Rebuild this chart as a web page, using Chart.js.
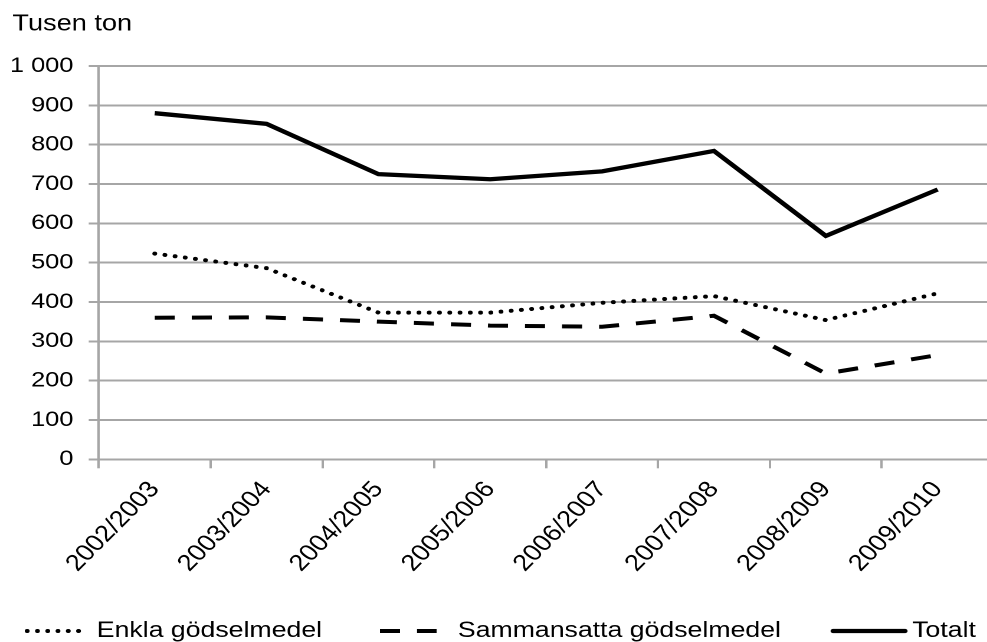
<!DOCTYPE html>
<html>
<head>
<meta charset="utf-8">
<script src="https://cdn.jsdelivr.net/npm/chart.js@4.4.1/dist/chart.umd.min.js"></script>
<style>
  html, body { margin:0; padding:0; background:#fff; overflow:hidden; width:987px; height:642px; }
  #wrap { position:absolute; left:0; top:0; width:842px; height:642px; transform:scaleX(1.18); transform-origin:0 0; }
  canvas { display:block; }
</style>
</head>
<body>
<div id="wrap"><canvas id="c" width="842" height="642" style="width:842px;height:642px"></canvas></div>
<script>
const categories = ['2002/2003','2003/2004','2004/2005','2005/2006','2006/2007','2007/2008','2008/2009','2009/2010'];
const enkla = [523, 486, 373, 373, 398, 415, 354, 422];
const sammansatta = [360, 361, 350, 340, 337, 365, 218, 265];
const totalt = [880, 853, 725, 712, 732, 784, 568, 686];
const seriesNames = ['Enkla gödselmedel', 'Sammansatta gödselmedel', 'Totalt'];
const yTitle = 'Tusen ton';

const FONT = '"Liberation Sans", Arial, sans-serif';
const GRID = '#a6a6a6';

const fmt = v => String(v).replace(/\B(?=(\d{3})+(?!\d))/g, ' ');

const legendPlugin = {
  id: 'customLegend',
  afterDraw(chart) {
    const ctx = chart.ctx;
    const y = 631;
    const items = [
      { ds: 0, x0: 23, x1: 75, tx: 82 },
      { ds: 1, x0: 322, x1: 370, tx: 388 },
      { ds: 2, x0: 706, x1: 767, tx: 773 }
    ];
    ctx.save();
    items.forEach(it => {
      const d = chart.data.datasets[it.ds];
      ctx.beginPath();
      ctx.strokeStyle = d.borderColor;
      ctx.lineWidth = d.borderWidth;
      ctx.lineCap = it.ds === 1 ? 'butt' : 'round';
      ctx.setLineDash(d.borderDash || []);
      ctx.moveTo(it.x0, y);
      ctx.lineTo(it.x1, y);
      ctx.stroke();
      ctx.setLineDash([]);
      ctx.fillStyle = '#000';
      ctx.font = '22.6px ' + FONT;
      ctx.textBaseline = 'middle';
      ctx.textAlign = 'left';
      ctx.fillText(d.label, it.tx, y);
    });
    ctx.font = '23px ' + FONT;
    ctx.textBaseline = 'alphabetic';
    ctx.fillText(yTitle, 10.5, 30.5);
    ctx.restore();
  }
};

new Chart(document.getElementById('c'), {
  type: 'line',
  data: {
    labels: categories,
    datasets: [
      { label: seriesNames[0], data: enkla, borderColor: '#000', borderWidth: 4, borderDash: [0.1, 8.6], borderCapStyle: 'round', pointRadius: 0, fill: false, tension: 0 },
      { label: seriesNames[1], data: sammansatta, borderColor: '#000', borderWidth: 4, borderDash: [17, 14.4], borderCapStyle: 'butt', pointRadius: 0, fill: false, tension: 0 },
      { label: seriesNames[2], data: totalt, borderColor: '#000', borderWidth: 4.3, borderJoinStyle: 'miter', pointRadius: 0, fill: false, tension: 0 }
    ]
  },
  options: {
    responsive: false,
    animation: false,
    devicePixelRatio: 2,
    layout: { padding: { left: 0, right: 0, top: 66, bottom: 62.7 } },
    plugins: { legend: { display: false }, tooltip: { enabled: false }, title: { display: false } },
    scales: {
      x: {
        offset: true,
        grid: { display: true, drawOnChartArea: false, drawTicks: true, offset: true, tickLength: 9, color: GRID, lineWidth: 2 },
        border: { display: true, color: GRID, width: 2 },
        ticks: { color: '#000', font: { family: FONT, size: 23 }, minRotation: 49.7, maxRotation: 49.7, padding: 8, autoSkip: false },
        afterFit(scale) { scale.height = 120; }
      },
      y: {
        min: 0, max: 1000,
        grid: { color: GRID, lineWidth: 2, drawTicks: true, tickLength: 8.5 },
        border: { display: true, color: GRID, width: 2 },
        ticks: { stepSize: 100, color: '#000', font: { family: FONT, size: 21.5 }, padding: 13, callback: v => fmt(v) },
        afterFit(scale) { scale.width = 83.7; }
      }
    }
  },
  plugins: [legendPlugin]
});
</script>
</body>
</html>
